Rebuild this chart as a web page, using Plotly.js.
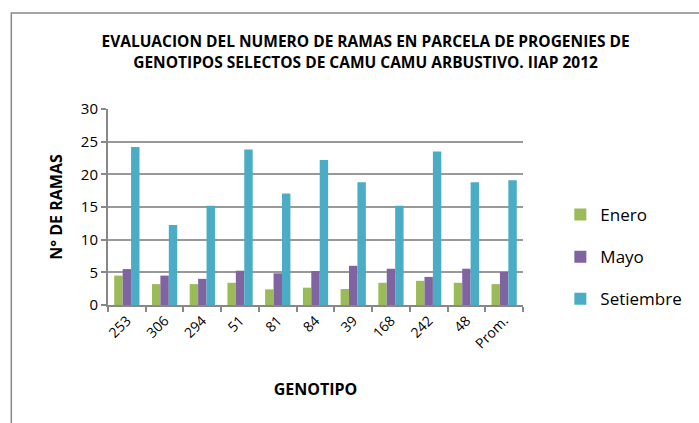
<!DOCTYPE html>
<html>
<head>
<meta charset="utf-8">
<script src="https://cdn.plot.ly/plotly-3.0.1.min.js"></script>
<style>
  body { margin: 0; background: #fff; }
  #chart { width: 699px; height: 423px; }
</style>
</head>
<body>
<div id="chart"></div>
<script>
// genotipos evaluados
const genotipos = ['253', '306', '294', '51', '81', '84', '39', '168', '242', '48', 'Prom.'];

// numero de ramas por mes
const enero = [4.5, 3.2, 3.2, 3.4, 2.4, 2.65, 2.45, 3.4, 3.7, 3.4, 3.2];
const mayo = [5.5, 4.5, 4.0, 5.25, 4.85, 5.2, 6.0, 5.55, 4.3, 5.55, 5.05];
const setiembre = [24.2, 12.25, 15.2, 23.8, 17.05, 22.2, 18.8, 15.2, 23.5, 18.8, 19.1];

const font = 'Open Sans, sans-serif';

const traces = [
  { name: 'Enero', y: enero, color: '#9BBB59' },
  { name: 'Mayo', y: mayo, color: '#8064A2' },
  { name: 'Setiembre', y: setiembre, color: '#4BACC6' }
].map(s => ({
  type: 'bar',
  x: genotipos,
  y: s.y,
  name: s.name,
  legendgroup: s.name,
  marker: { color: s.color }
}));

const layout = {
  width: 699,
  height: 423,
  margin: { l: 108, r: 162, t: 109, b: 118 },
  paper_bgcolor: '#fff',
  plot_bgcolor: '#fff',
  font: { family: font, color: '#000', size: 14 },
  bargap: 0.33,
  bargroupgap: 0,
  title: {
    text: 'EVALUACION DEL NUMERO DE RAMAS EN PARCELA DE PROGENIES DE<br>GENOTIPOS SELECTOS DE CAMU CAMU ARBUSTIVO. IIAP 2012',
    font: { family: font, size: 15.5, weight: 'bold' },
    x: 0.523, xanchor: 'center',
    y: 0.888, yanchor: 'middle'
  },
  xaxis: {
    type: 'category',
    tickangle: -45,
    showline: true,
    linecolor: '#888',
    linewidth: 2,
    ticks: 'outside',
    ticklen: 5,
    tickcolor: '#888',
    tickwidth: 2,
    tickson: 'boundaries',
    tickfont: { size: 14 },
    title: { text: 'GENOTIPO', font: { size: 16, weight: 'bold' }, standoff: 32 }
  },
  yaxis: {
    range: [0, 30],
    dtick: 5,
    showline: true,
    linecolor: '#888',
    linewidth: 2,
    gridcolor: '#999',
    gridwidth: 2,
    zeroline: false,
    ticks: 'outside',
    ticklen: 5,
    tickcolor: '#888',
    tickwidth: 2,
    tickfont: { size: 15 },
    title: { text: 'N° DE RAMAS', font: { size: 16, weight: 'bold' }, standoff: 14 }
  },
  legend: {
    x: 1.09, xanchor: 'left',
    y: 0.245, yanchor: 'middle',
    font: { size: 17 },
    tracegroupgap: 17,
    itemwidth: 30,
    traceorder: 'grouped'
  },
  shapes: [{
    type: 'rect',
    xref: 'paper', yref: 'paper',
    x0: -0.233, x1: 1.5,
    y0: -0.62, y1: 1.49,
    line: { color: '#888', width: 1.5 }
  }]
};

Plotly.newPlot('chart', traces, layout, { displayModeBar: false, staticPlot: true });
</script>
</body>
</html>
